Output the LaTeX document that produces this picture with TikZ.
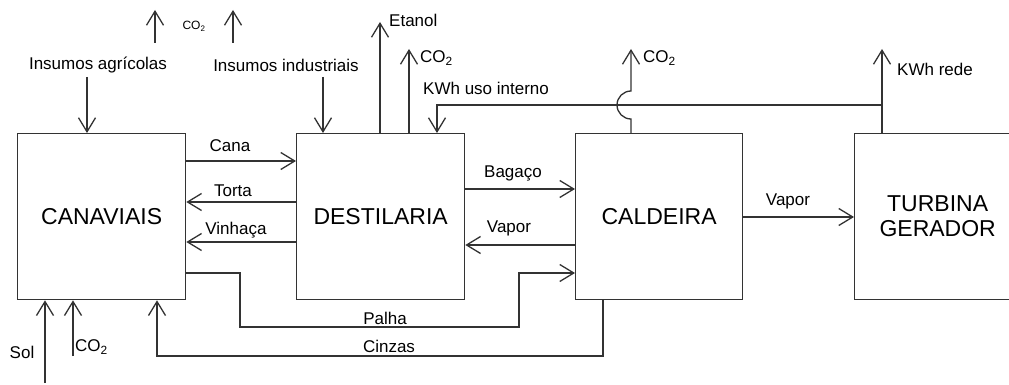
\documentclass[tikz,border=0pt]{standalone}
\usepackage{fontspec}
\setmainfont{Liberation Sans}
\usetikzlibrary{arrows.meta}
\begin{document}
\begin{tikzpicture}[x=1pt,y=-1pt,
  line/.style={draw=black!80, line width=1.3pt},
  arr/.style={line, -{Straight Barb[length=14pt,width=17pt,line width=1.3pt]}},
  box/.style={draw=black!80, line width=1.3pt, inner sep=0pt, anchor=north west, align=center, font=\fontsize{23}{25}\selectfont},
  lbl/.style={font=\fontsize{17}{20}\selectfont, inner sep=0pt},
  small/.style={font=\fontsize{12}{14}\selectfont, inner sep=0pt},
]
\useasboundingbox (0,0) rectangle (1009,385);
% boxes
\node[box, minimum width=168pt, minimum height=166pt] (can) at (17,133) {CANAVIAIS};
\node[box, minimum width=168pt, minimum height=166pt] (des) at (296,133) {DESTILARIA};
\node[box, minimum width=167pt, minimum height=166pt] (cal) at (575,133) {CALDEIRA};
\node[box, minimum width=166pt, minimum height=166pt] (tur) at (854,133) {TURBINA\\GERADOR};
% labels
\node[lbl] (ia) at (98,65) {Insumos agrícolas};
\node[lbl] (ii) at (286,65) {Insumos industriais};
\node[small] (co2top) at (194,26) {CO\textsubscript{2}};
\node[lbl, anchor=west] (etanol) at (389,20) {Etanol};
\node[lbl, anchor=west] (co2des) at (420,58) {CO\textsubscript{2}};
\node[lbl, anchor=west] (kwhui) at (423,88) {KWh uso interno};
\node[lbl, anchor=west] (co2cal) at (643,58) {CO\textsubscript{2}};
\node[lbl, anchor=west] (kwhrede) at (897,69) {KWh rede};
\node[lbl] (lcana) at (230,146) {Cana};
\node[lbl] (ltorta) at (233,191) {Torta};
\node[lbl] (lvinh) at (236,230) {Vinhaça};
\node[lbl] (lbag) at (513,173) {Bagaço};
\node[lbl] (lvap1) at (509,228) {Vapor};
\node[lbl] (lvap2) at (788,201) {Vapor};
\node[lbl] (lpalha) at (385,318) {Palha};
\node[lbl] (lcinzas) at (389,346) {Cinzas};
\node[lbl] (lsol) at (22,352) {Sol};
\node[lbl, anchor=west] (co2bot) at (75,347) {CO\textsubscript{2}};
% free ends
\coordinate (t1) at (155,43);
\coordinate (t1e) at (155,10);
\coordinate (t2) at (233,43);
\coordinate (t2e) at (233,10);
\coordinate (solS) at (45,383);
\coordinate (co2S) at (73,356);
% connectors
\draw[arr] (t1) -- (t1e);
\draw[arr] (t2) -- (t2e);
\draw[arr] (87,77) -- (can.north -| 87,0);
\draw[arr] (323,77) -- (des.north -| 323,0);
\draw[arr] (des.north -| 380,0) -- (380,22);
\draw[arr] (des.north -| 409,0) -- (409,49);
\draw[arr] (cal.north -| 631,0) -- (631,119) arc[start angle=90, end angle=270, radius=14] -- (631,49);
\draw[arr] (tur.north -| 882,0) -- (882,49);
\draw[arr] (882,105) -- (437,105) -- (des.north -| 437,0);
\draw[arr] (can.east |- 0,161) -- (des.west |- 0,161);
\draw[arr] (des.west |- 0,202) -- (can.east |- 0,202);
\draw[arr] (des.west |- 0,242) -- (can.east |- 0,242);
\draw[arr] (des.east |- 0,189) -- (cal.west |- 0,189);
\draw[arr] (cal.west |- 0,245) -- (des.east |- 0,245);
\draw[arr] (cal.east |- 0,217) -- (tur.west |- 0,217);
\draw[arr] (can.east |- 0,273) -| (240,327) -| (519,273) -- (cal.west |- 0,273);
\draw[arr] (cal.south -| 603,0) -- (603,356) -| (can.south -| 157,0);
\draw[arr] (solS) -- (can.south -| solS);
\draw[arr] (co2S) -- (can.south -| co2S);
\end{tikzpicture}
\end{document}
